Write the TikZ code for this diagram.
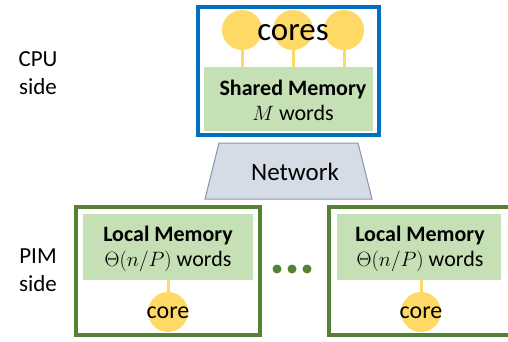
\documentclass[tikz,border=0pt]{standalone}
\usepackage{amsmath,amssymb}
\usepackage{fontspec}
\setmainfont{Carlito}
\usepackage{tikz}

\definecolor{cpublue}{HTML}{0070C0}
\definecolor{pimgreen}{HTML}{548235}
\definecolor{memgreen}{HTML}{C5E0B4}
\definecolor{coreyellow}{HTML}{FFD966}
\definecolor{netfill}{HTML}{D6DCE5}
\definecolor{netdraw}{HTML}{8497B0}

\tikzset{
  memtext/.style={align=center, font=\fontsize{22}{25}\selectfont, inner sep=0pt},
  corecirc/.style={circle, fill=coreyellow, minimum size=40pt, inner sep=0pt},
  stem/.style={coreyellow, line width=3pt},
  sidetext/.style={align=center, font=\fontsize{23}{28}\selectfont}
}

\begin{document}
\begin{tikzpicture}[x=1pt, y=-1pt]
			\useasboundingbox (0,0) rectangle (508,341);
			\clip (0,0) rectangle (508,341);

			% CPU side
			\node[sidetext] (cpulabel) at (38,73) {CPU\\side};
			\draw[cpublue, line width=4pt, fill=white] (198,7) rectangle (379,135);
			\fill[memgreen] (204,67) rectangle (373,131);
			\foreach \x [count=\i] in {242,293,344}{
				\node[corecirc] (c\i) at (\x,30) {};
				\coordinate (s\i) at (\x,67);
				\draw[stem] (c\i.south) -- (s\i);
			}
			\node[font=\fontsize{33}{36}\selectfont, inner sep=0pt] (cores) at (293,33) {cores};
			\node[memtext] (shared) at (293,100) {\textbf{Shared Memory}\\$M$ words};

			% network
			\filldraw[fill=netfill, draw=netdraw, line width=1pt] (219,143)--(358,143)--(372,199)--(205,199)--cycle;
			\node[font=\fontsize{25}{28}\selectfont] (net) at (295,172) {Network};

			% PIM side
			\node[sidetext] (pimlabel) at (38,270) {PIM\\side};
			\draw[pimgreen, line width=4pt] (76,207) rectangle (260,335);
			\fill[memgreen] (83,214) rectangle (253,280);
			\node[memtext] (loc1) at (168,249) {\textbf{Local Memory}\\$\Theta(n/P)$ words};
			\node[corecirc] (core1) at (168,312) {};
			\draw[stem] (168,280) -- (core1.north);
			\node[font=\fontsize{24}{26}\selectfont, inner sep=0pt] (core1t) at (168,313) {core};

			\foreach \x in {277,292,307}
				\fill[pimgreen] (\x,269) circle (4.5);

			\draw[pimgreen, line width=4pt] (329,207) rectangle (514,335);
			\fill[memgreen] (337,214) rectangle (501,280);
			\node[memtext] (loc2) at (420,249) {\textbf{Local Memory}\\$\Theta(n/P)$ words};
			\node[corecirc] (core2) at (421,312) {};
			\draw[stem] (421,280) -- (core2.north);
			\node[font=\fontsize{24}{26}\selectfont, inner sep=0pt] (core2t) at (421,313) {core};
		\end{tikzpicture}
\end{document}
